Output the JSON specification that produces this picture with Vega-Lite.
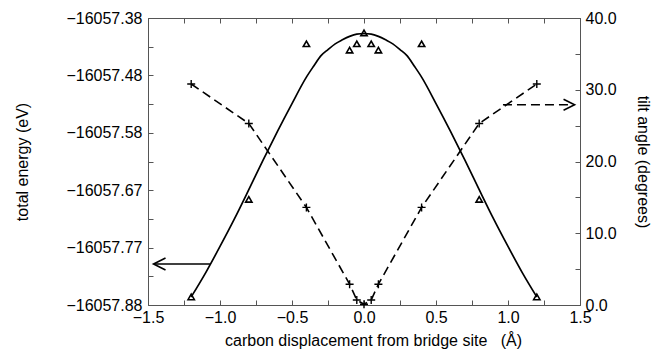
{
  "$schema": "https://vega.github.io/schema/vega-lite/v6.json",
  "width": 432,
  "height": 287,
  "autosize": {"type": "none"},
  "padding": {"left": 148, "top": 18, "right": 75, "bottom": 46},
  "background": "white",
  "config": {
    "view": {"stroke": null},
    "font": "Liberation Sans",
    "axis": {
      "labelFont": "Liberation Sans",
      "labelFontSize": 16,
      "labelColor": "#000",
      "titleFont": "Liberation Sans",
      "titleFontSize": 16,
      "titleFontWeight": "normal",
      "titleColor": "#000",
      "domainColor": "#555",
      "tickColor": "#555",
      "grid": false,
      "tickSize": -5,
      "labelPadding": 9
    }
  },
  "datasets": {
    "energy": [
      {"x": -1.2, "E": -16057.861},
      {"x": -0.8, "E": -16057.691},
      {"x": -0.4, "E": -16057.420},
      {"x": -0.1, "E": -16057.431},
      {"x": -0.05, "E": -16057.420},
      {"x": 0.0, "E": -16057.401},
      {"x": 0.05, "E": -16057.420},
      {"x": 0.1, "E": -16057.431},
      {"x": 0.4, "E": -16057.420},
      {"x": 0.8, "E": -16057.691},
      {"x": 1.2, "E": -16057.861}
    ],
    "fit": [
      {"x": -1.2, "E": -16057.861},
      {"x": -1.1, "E": -16057.819},
      {"x": -1.0, "E": -16057.773},
      {"x": -0.9, "E": -16057.725},
      {"x": -0.8, "E": -16057.674},
      {"x": -0.7, "E": -16057.622},
      {"x": -0.6, "E": -16057.572},
      {"x": -0.5, "E": -16057.524},
      {"x": -0.4, "E": -16057.478},
      {"x": -0.35, "E": -16057.459},
      {"x": -0.3, "E": -16057.441},
      {"x": -0.25, "E": -16057.430},
      {"x": -0.2, "E": -16057.420},
      {"x": -0.15, "E": -16057.413},
      {"x": -0.1, "E": -16057.407},
      {"x": -0.05, "E": -16057.403},
      {"x": 0.0, "E": -16057.402},
      {"x": 0.05, "E": -16057.403},
      {"x": 0.1, "E": -16057.407},
      {"x": 0.15, "E": -16057.413},
      {"x": 0.2, "E": -16057.420},
      {"x": 0.25, "E": -16057.430},
      {"x": 0.3, "E": -16057.441},
      {"x": 0.35, "E": -16057.459},
      {"x": 0.4, "E": -16057.478},
      {"x": 0.5, "E": -16057.524},
      {"x": 0.6, "E": -16057.572},
      {"x": 0.7, "E": -16057.622},
      {"x": 0.8, "E": -16057.674},
      {"x": 0.9, "E": -16057.725},
      {"x": 1.0, "E": -16057.773},
      {"x": 1.1, "E": -16057.819},
      {"x": 1.2, "E": -16057.861}
    ],
    "tilt": [
      {"x": -1.2, "angle": 30.8},
      {"x": -0.8, "angle": 25.3},
      {"x": -0.4, "angle": 13.6},
      {"x": -0.1, "angle": 2.9},
      {"x": -0.05, "angle": 0.7},
      {"x": 0.0, "angle": 0.1},
      {"x": 0.05, "angle": 0.7},
      {"x": 0.1, "angle": 2.9},
      {"x": 0.4, "angle": 13.6},
      {"x": 0.8, "angle": 25.3},
      {"x": 1.2, "angle": 30.8}
    ],
    "leftArrow": [{"x": -1.07, "x2": -1.455, "E": -16057.8036}],
    "leftHead": [{"x": -1.42, "E": -16057.8036}],
    "rightArrow": [{"x": 0.965, "x2": 1.46, "angle": 27.9}],
    "rightHead": [{"x": 1.424, "angle": 27.9}]
  },
  "layer": [
    {
      "encoding": {
        "x": {
          "field": "x",
          "type": "quantitative",
          "scale": {"domain": [-1.5, 1.5], "nice": false, "zero": false},
          "axis": {
            "orient": "bottom",
            "values": [-1.5, -1.25, -1.0, -0.75, -0.5, -0.25, 0, 0.25, 0.5, 0.75, 1.0, 1.25, 1.5],
            "labelExpr": "abs(datum.value * 2 - round(datum.value * 2)) < 0.01 ? format(datum.value, '.1f') : ''",
            "title": "carbon displacement from bridge site\u00a0\u00a0\u00a0(Å)",
            "titlePadding": 7,
            "titleX": 225,
            "labelFlush": false,
            "labelOverlap": false
          }
        },
        "y": {
          "field": "E",
          "type": "quantitative",
          "scale": {"domain": [-16057.875, -16057.375], "nice": false, "zero": false},
          "axis": {
            "orient": "left",
            "values": [-16057.875, -16057.825, -16057.775, -16057.725, -16057.675, -16057.625, -16057.575, -16057.525, -16057.475, -16057.425, -16057.375],
            "labelExpr": "datum.value < -16057.85 ? '−16057.88' : datum.value < -16057.8 ? '' : datum.value < -16057.75 ? '−16057.77' : datum.value < -16057.7 ? '' : datum.value < -16057.65 ? '−16057.67' : datum.value < -16057.6 ? '' : datum.value < -16057.55 ? '−16057.58' : datum.value < -16057.5 ? '' : datum.value < -16057.45 ? '−16057.48' : datum.value < -16057.4 ? '' : '−16057.38'",
            "title": "total energy (eV)",
            "titlePadding": 35,
            "labelPadding": 11,
            "labelFlush": false,
            "labelOverlap": false
          }
        }
      },
      "layer": [
        {
          "data": {"name": "fit"},
          "mark": {"type": "line", "color": "#000", "strokeWidth": 1.7, "interpolate": "monotone"}
        },
        {
          "data": {"name": "energy"},
          "mark": {"type": "point", "shape": "triangle-up", "filled": false, "stroke": "#000", "strokeWidth": 1.6, "size": 40, "opacity": 1}
        },
        {
          "data": {"name": "leftArrow"},
          "mark": {"type": "rule", "color": "#000", "strokeWidth": 1.6},
          "encoding": {"x2": {"field": "x2"}}
        },
        {
          "data": {"name": "leftHead"},
          "mark": {"type": "point", "shape": "M1,-1L-1,0L1,1", "filled": false, "stroke": "#000", "strokeWidth": 1.6, "size": 144, "opacity": 1}
        }
      ]
    },
    {
      "encoding": {
        "x": {
          "field": "x",
          "type": "quantitative",
          "scale": {"domain": [-1.5, 1.5], "nice": false, "zero": false},
          "axis": {
            "orient": "top",
            "values": [-1.5, -1.25, -1.0, -0.75, -0.5, -0.25, 0, 0.25, 0.5, 0.75, 1.0, 1.25, 1.5],
            "labels": false,
            "title": null
          }
        },
        "y": {
          "field": "angle",
          "type": "quantitative",
          "scale": {"domain": [0, 40], "nice": false, "zero": false},
          "axis": {
            "orient": "right",
            "values": [0, 5, 10, 15, 20, 25, 30, 35, 40],
            "labelExpr": "datum.value % 10 == 0 ? format(datum.value, '.1f') : ''",
            "title": "tilt angle (degrees)",
            "titlePadding": 18,
            "labelPadding": 10,
            "labelFlush": false,
            "labelOverlap": false
          }
        }
      },
      "layer": [
        {
          "data": {"name": "tilt"},
          "mark": {"type": "line", "color": "#000", "strokeWidth": 1.6, "strokeDash": [9, 5]}
        },
        {
          "data": {"name": "tilt"},
          "mark": {"type": "point", "shape": "M-1,0L1,0M0,-1L0,1", "filled": false, "stroke": "#000", "strokeWidth": 1.4, "size": 64, "opacity": 1}
        },
        {
          "data": {"name": "rightArrow"},
          "mark": {"type": "rule", "color": "#000", "strokeWidth": 1.6, "strokeDash": [9, 5]},
          "encoding": {"x2": {"field": "x2"}}
        },
        {
          "data": {"name": "rightHead"},
          "mark": {"type": "point", "shape": "M-1,-1L1,0L-1,1", "filled": false, "stroke": "#000", "strokeWidth": 1.6, "size": 121, "opacity": 1}
        }
      ]
    }
  ],
  "resolve": {"scale": {"y": "independent"}, "axis": {"x": "independent"}}
}
